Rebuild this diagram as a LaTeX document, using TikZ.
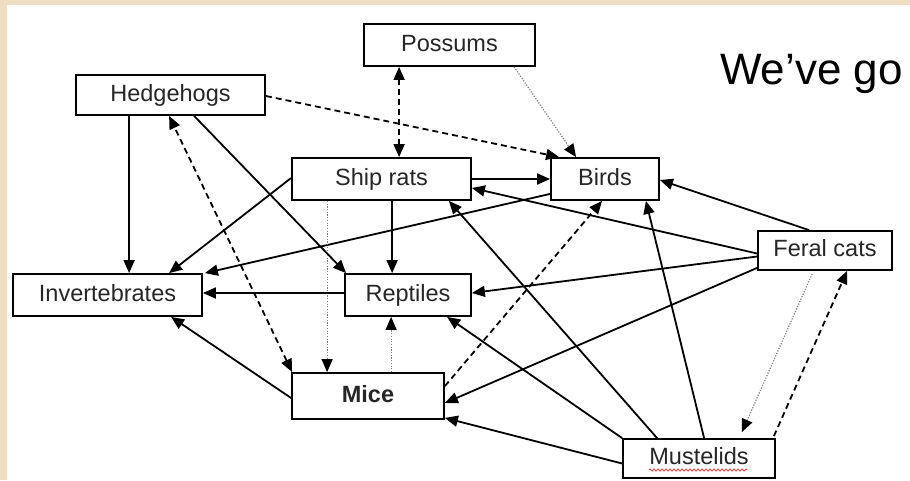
\documentclass[tikz,border=0pt]{standalone}
\usepackage{fontspec}
\setmainfont{Liberation Sans}
\usetikzlibrary{arrows.meta,calc,decorations.pathmorphing}
\definecolor{beige}{HTML}{EEDDC0}
\definecolor{boxtext}{HTML}{262626}
\begin{document}
\begin{tikzpicture}[x=1pt,y=-1pt,
  box/.style={draw, line width=1.8pt, inner sep=0pt, text height=17pt, text depth=5pt,
    font=\fontsize{23.5}{23.5}\selectfont, text=boxtext},
  tip/.style={-{Triangle[length=13pt,width=11pt,color=black]}},
  arr/.style={tip, line width=1.8pt},
  dsh/.style={arr, dash pattern=on 6pt off 4pt},
  dbl/.style={{Triangle[length=13pt,width=11pt]}-{Triangle[length=13pt,width=11pt]}, line width=1.8pt, dash pattern=on 6pt off 4pt},
  dot/.style={tip, line width=1.2pt, draw=gray, dash pattern=on 1.2pt off 1.5pt},
  squiggle/.style={draw=red!85, line width=0.7pt, decorate, decoration={zigzag, amplitude=1.2pt, segment length=4pt}}
]
\useasboundingbox (0,0) rectangle (910,480);
\fill[beige] (0,0) rectangle (910,480);
\fill[white] (7,5) rectangle (910,480);

\node[anchor=base west, inner sep=0pt, font=\fontsize{44}{44}\selectfont] (title) at (720,84) {We’ve go};

\node[box, minimum width=171pt, minimum height=42pt] (pos) at (449.5,45) {Possums};
\node[box, minimum width=189pt, minimum height=40pt] (hed) at (170.5,95) {Hedgehogs};
\node[box, minimum width=179pt, minimum height=42pt] (shp) at (381.5,179) {Ship rats};
\node[box, minimum width=108pt, minimum height=42pt] (brd) at (605,179) {Birds};
\node[box, minimum width=189pt, minimum height=42pt] (inv) at (107.5,295) {Invertebrates};
\node[box, minimum width=126pt, minimum height=42pt] (rep) at (408,295) {Reptiles};
\node[box, minimum width=152pt, minimum height=46pt, font=\fontsize{23.5}{23.5}\selectfont\bfseries] (mic) at (368,396) {Mice};
\node[box, minimum width=134pt, minimum height=39pt] (fer) at (825,250.5) {Feral cats};
\node[box, minimum width=152pt, minimum height=39pt] (mus) at (699,458.5) {Mustelids};
\path[squiggle] (649,470) -- (747,470);

% connectors
\draw[dbl] ($(pos.south west)+(36,0)$) -- ($(shp.north west)+(108,0)$);
\draw[dot] ($(pos.south west)+(151,0)$) -- ($(brd.north west)+(26,0)$);
\draw[dsh] ($(hed.east)+(0,1)$) -- ($(brd.north west)+(9,0)$);
\draw[arr] (shp.east) -- (brd.west);
\draw[arr] ($(fer.west)+(0,3)$) -- ($(shp.east)+(0,9)$);
\draw[arr] ($(fer.north west)+(52,0)$) -- ($(brd.east)+(0,1)$);
\draw[arr] ($(brd.south west)+(0,-7)$) -- ($(inv.north east)+(2,0)$);
\draw[arr] ($(shp.west)+(0,-1)$) -- ($(inv.north west)+(157,0)$);
\draw[arr] ($(hed.south west)+(54,0)$) -- ($(inv.north west)+(117,0)$);
\draw[arr] ($(hed.south west)+(119,0)$) -- ($(rep.north west)+(2,0)$);
\draw[dbl] ($(mic.north west)+(1,0)$) -- ($(hed.south west)+(94,0)$);
\draw[arr] ($(shp.south west)+(101,0)$) -- ($(rep.north west)+(48,0)$);
\draw[dot] ($(shp.south west)+(36,0)$) -- ($(mic.north west)+(36,0)$);
\draw[dot] ($(mic.north west)+(100,0)$) -- ($(rep.south west)+(47,0)$);
\draw[arr] ($(rep.west)+(0,-2)$) -- ($(inv.east)+(0,-2)$);
\draw[arr] ($(mic.west)+(0,2)$) -- ($(inv.south west)+(159,0)$);
\draw[dsh] ($(mic.north east)+(0,14)$) -- ($(brd.south west)+(52,0)$);
\draw[arr] ($(fer.west)+(0,6)$) -- ($(rep.east)+(0,-2)$);
\draw[arr] ($(fer.south west)+(0,-3)$) -- ($(mic.east)+(0,7)$);
\draw[arr] ($(mus.west)+(0,5)$) -- ($(mic.south east)+(0,-2)$);
\draw[arr] (mus.north west) -- ($(rep.south west)+(103,0)$);
\draw[arr] ($(mus.north west)+(35,0)$) -- ($(shp.south east)+(-23,0)$);
\draw[arr] ($(mus.north west)+(82,0)$) -- ($(brd.south east)+(-14,0)$);
\draw[dot] ($(fer.south west)+(55,3)$) -- ($(mus.north east)+(-34,-6)$);
\draw[dsh] ($(mus.north east)+(-2,-2)$) -- ($(fer.south west)+(90,0)$);
\end{tikzpicture}
\end{document}
